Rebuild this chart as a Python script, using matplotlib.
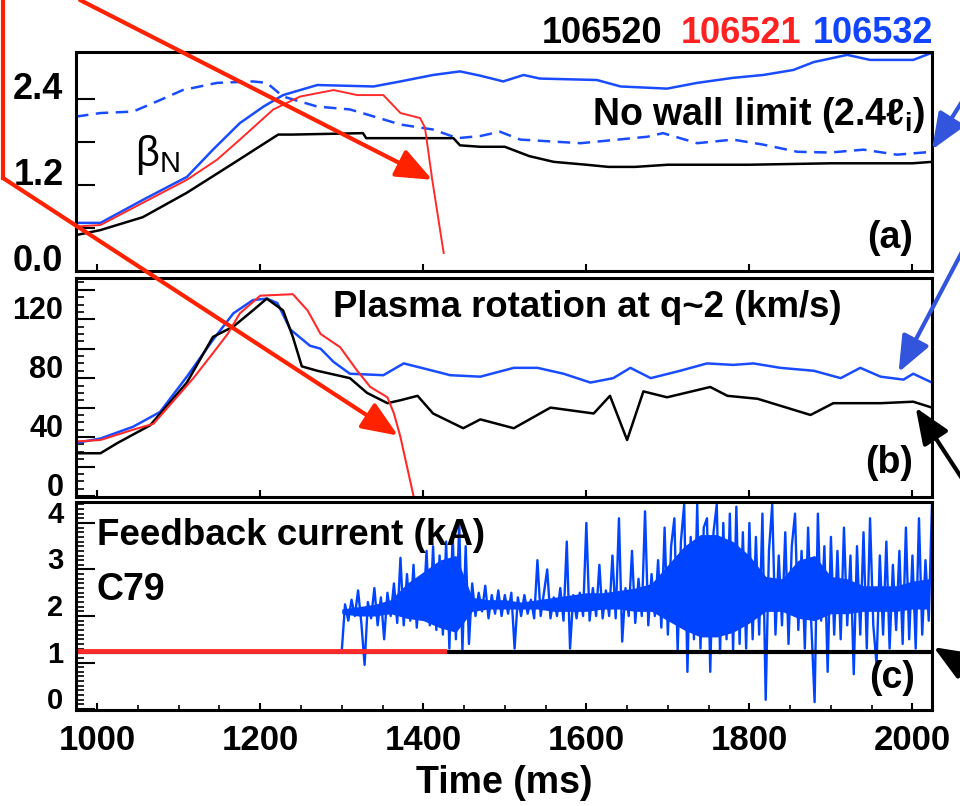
import numpy as np
import matplotlib.pyplot as plt
from matplotlib.lines import Line2D
from matplotlib.ticker import MultipleLocator

plt.rcParams['font.family'] = ['Liberation Sans', 'DejaVu Sans']
plt.rcParams['font.weight'] = 'bold'
plt.rcParams['mathtext.fontset'] = 'dejavusans'

# ---------------- data ----------------
shots = ['106520', '106521', '106532']
shot_colors = ['black', '#ff2222', '#1144ff']

# (a) beta_N and no-wall limit
bn_black_t = [974, 1004, 1056, 1110, 1167, 1222, 1240, 1326, 1330, 1437, 1445, 1470, 1500,
              1530, 1560, 1600, 1627, 1660, 1700, 1800, 1900, 2000, 2024]
bn_black = [0.50, 0.57, 0.75, 1.09, 1.50, 1.90, 1.90, 1.92, 1.85, 1.85, 1.75, 1.73, 1.73,
            1.60, 1.52, 1.48, 1.45, 1.45, 1.48, 1.48, 1.50, 1.50, 1.52]
bn_red_t = [974, 1004, 1056, 1110, 1147, 1175, 1216, 1249, 1290, 1319, 1351, 1372, 1396,
            1402, 1411, 1425]
bn_red = [0.62, 0.64, 0.95, 1.27, 1.55, 1.83, 2.25, 2.43, 2.52, 2.45, 2.45, 2.20, 2.13,
          2.00, 1.27, 0.25]
bn_blue_t = [974, 1004, 1056, 1110, 1142, 1175, 1204, 1228, 1270, 1339, 1372, 1412, 1445,
             1470, 1498, 1523, 1543, 1613, 1642, 1699, 1736, 1780, 1817, 1854, 1879, 1920,
             1948, 2001, 2024]
bn_blue = [0.67, 0.67, 0.99, 1.31, 1.69, 2.06, 2.29, 2.45, 2.59, 2.57, 2.64, 2.73, 2.78,
           2.72, 2.64, 2.73, 2.68, 2.66, 2.57, 2.54, 2.62, 2.69, 2.73, 2.80, 2.91, 3.01,
           2.94, 2.94, 3.04]
nowall_t = [974, 1004, 1044, 1077, 1105, 1147, 1191, 1208, 1228, 1270, 1310, 1331, 1372,
            1412, 1442, 1470, 1494, 1519, 1593, 1675, 1694, 1736, 1780, 1817, 1859, 1899,
            1940, 1981, 2024]
nowall = [2.15, 2.20, 2.22, 2.38, 2.52, 2.62, 2.64, 2.62, 2.43, 2.29, 2.25, 2.18, 2.04,
          1.97, 1.85, 1.88, 1.94, 1.83, 1.78, 1.87, 1.92, 1.78, 1.83, 1.76, 1.66, 1.65,
          1.69, 1.62, 1.66]

# (b) plasma rotation at q~2 (km/s)
rot_black_t = [974, 1004, 1025, 1065, 1110, 1142, 1167, 1191, 1208, 1228, 1240, 1251, 1270,
               1310, 1331, 1356, 1372, 1393, 1412, 1449, 1470, 1511, 1556, 1609, 1629, 1650,
               1670, 1699, 1752, 1773, 1810, 1875, 1903, 1961, 2001, 2024]
rot_black = [29, 29, 36, 48, 77, 108, 115, 126, 134, 126, 108, 88, 85,
             80, 70, 63, 65, 68, 56, 46, 52, 46, 60, 56, 68, 38,
             71, 67, 74, 68, 66, 55, 63, 63, 64, 60]
rot_red_t = [974, 1004, 1044, 1069, 1118, 1142, 1160, 1175, 1200, 1240, 1258, 1274, 1298,
             1319, 1335, 1356, 1364, 1372, 1388, 1392]
rot_red = [37, 38, 45, 49, 80, 97, 110, 124, 136, 137, 126, 110, 101,
           85, 74, 67, 56, 40, 0, -5]
rot_blue_t = [974, 1004, 1044, 1077, 1110, 1142, 1167, 1191, 1208, 1221, 1237, 1261, 1274,
              1290, 1310, 1351, 1376, 1412, 1433, 1470, 1511, 1540, 1572, 1605, 1633, 1654,
              1679, 1715, 1748, 1780, 1805, 1838, 1879, 1912, 1936, 1961, 1989, 2001, 2024]
rot_blue = [36, 39, 47, 57, 81, 106, 124, 133, 134, 131, 113, 102, 100,
            91, 83, 82, 90, 85, 82, 81, 87, 87, 83, 77, 80, 87,
            80, 85, 90, 89, 90, 87, 85, 80, 87, 81, 79, 83, 77]

# (c) feedback current C79 (kA)
fb_red_t, fb_red = [974, 1425], [1.25, 1.25]
fb_black_t, fb_black = [974, 2024], [1.23, 1.23]
fb_blue_pre_t, fb_blue_pre = [974, 1300], [1.22, 1.22]
fb_blue_start, fb_blue_dt = 1300, 4
fb_blue = [1.25, 2.25, 1.90, 2.35, 2.00, 2.55, 1.85, 0.95, 2.30, 1.95,   # 1300
           2.60, 1.80, 2.40, 1.50, 2.50, 2.00, 2.70, 1.85, 3.25, 1.80,   # 1340
           2.90, 1.90, 3.10, 1.75, 2.80, 2.10, 3.40, 1.80, 3.50, 1.70,   # 1380
           3.30, 1.60, 3.60, 1.30, 3.80, 1.50, 4.00, 1.27, 3.50, 1.40,   # 1420
           2.70, 2.00, 2.50, 2.10, 2.65, 1.95, 2.45, 2.05, 2.55, 2.00,   # 1460
           2.45, 2.05, 2.50, 1.30, 2.40, 2.00, 2.45, 2.05, 2.35, 1.95,   # 1500
           3.20, 2.00, 2.50, 3.00, 1.95, 2.40, 2.00, 2.60, 1.90, 3.60,   # 1540
           1.30, 2.45, 1.95, 2.50, 2.00, 4.00, 1.90, 2.60, 2.00, 3.10,   # 1580
           1.95, 2.55, 2.00, 3.30, 1.95, 4.10, 1.45, 2.60, 2.00, 3.40,   # 1620
           1.85, 2.80, 2.00, 4.25, 1.80, 2.90, 2.00, 3.20, 1.75, 3.90,   # 1660
           1.60, 3.50, 4.10, 1.25, 3.60, 4.40, 0.80, 3.70, 1.50, 4.40,   # 1700
           1.30, 3.90, 4.10, 0.80, 3.80, 4.40, 1.20, 4.00, 1.50, 4.20,   # 1740
           1.25, 4.35, 1.40, 3.80, 1.30, 4.00, 1.50, 3.70, 1.60, 4.20,   # 1780
           0.20, 3.40, 4.40, 1.60, 3.30, 1.80, 3.80, 1.40, 3.50, 4.20,   # 1820
           1.70, 3.40, 1.30, 3.90, 1.80, 0.15, 4.20, 1.90, 3.50, 0.80,   # 1860
           3.70, 1.60, 3.40, 1.50, 3.90, 1.80, 3.30, 0.75, 3.50, 1.60,   # 1900
           3.80, 1.30, 4.10, 1.80, 0.95, 3.30, 1.60, 3.60, 1.30, 3.10,   # 1940
           1.70, 3.40, 1.40, 3.90, 1.50, 3.30, 1.30, 4.10, 1.60, 3.20,   # 1980
           1.90, 4.40]                                                   # 2020
# dense core of the feedback trace, 20 ms bins from 1300 ms
fb_body_dt = 20
fb_body_lo = [2.05, 2.00, 2.00, 2.05, 1.95, 1.90, 1.75, 1.65, 2.10, 2.15, 2.15, 2.15, 2.15,
              2.10, 2.10, 2.10, 2.15, 2.15, 2.10, 2.10, 1.90, 1.70, 1.55, 1.55, 1.65, 1.85,
              2.10, 2.10, 1.95, 1.90, 2.05, 2.05, 2.10, 2.10, 2.10, 2.15, 2.15]
fb_body_hi = [2.15, 2.20, 2.25, 2.35, 2.70, 2.95, 3.20, 3.30, 2.40, 2.35, 2.35, 2.30, 2.35,
              2.40, 2.45, 2.50, 2.50, 2.55, 2.60, 2.70, 3.10, 3.50, 3.75, 3.75, 3.60, 3.30,
              2.85, 2.80, 3.20, 3.30, 2.85, 2.80, 2.65, 2.65, 2.65, 2.75, 2.80]

xticks = [1000, 1200, 1400, 1600, 1800, 2000]

# ---------------- layout (reference pixels) ----------------
W, H = 960, 806


def box(left, top, right, bottom):
    return [left / W, 1 - bottom / H, (right - left) / W, (bottom - top) / H]


def fxy(x, y):
    return (x / W, 1 - y / H)


fig = plt.figure(figsize=(9.6, 8.06), dpi=100, facecolor='white')
ax1 = fig.add_axes(box(76, 52, 932, 271))
ax2 = fig.add_axes(box(76, 278, 932, 497))
ax3 = fig.add_axes(box(76, 502, 932, 710))

blue = '#1a4cff'
red = '#ff2a2a'

# (a)
ax1.plot(nowall_t, nowall, color=blue, lw=1.8, dashes=(5, 3))
ax1.plot(bn_blue_t, bn_blue, color=blue, lw=1.8)
ax1.plot(bn_black_t, bn_black, color='black', lw=1.8)
ax1.plot(bn_red_t, bn_red, color=red, lw=1.4)
ax1.set_ylim(0, 3.05)
ax1.set_yticks([0, 0.6, 1.2, 1.8, 2.4], ['0.0', '', '1.2', '', '2.4'])

# (b)
ax2.plot(rot_blue_t, rot_blue, color=blue, lw=1.8)
ax2.plot(rot_black_t, rot_black, color='black', lw=1.8)
ax2.plot(rot_red_t, rot_red, color=red, lw=1.5)
ax2.set_ylim(-0.7, 148)
ax2.set_yticks(range(0, 141, 20), ['0', '', '40', '', '80', '', '120', ''])
ax2.yaxis.set_minor_locator(MultipleLocator(5))

# (c)
t_zig = np.arange(len(fb_blue)) * fb_blue_dt + fb_blue_start
t_body = np.arange(len(fb_body_lo)) * fb_body_dt + fb_blue_start
ax3.plot(fb_blue_pre_t, fb_blue_pre, color='#0044ff', lw=2)
ax3.fill_between(t_body, fb_body_lo, fb_body_hi, color='#0044ff', lw=0)
ax3.plot(t_zig, fb_blue, color='#0044ff', lw=1.7)
ax3.plot(fb_black_t, fb_black, color='black', lw=3)
ax3.plot(fb_red_t, fb_red, color=red, lw=3.5)
ax3.set_ylim(-0.02, 4.45)
ax3.set_yticks([0, 1, 2, 3, 4])
ax3.yaxis.set_minor_locator(MultipleLocator(0.1))
ax3.xaxis.set_minor_locator(MultipleLocator(50))
ax3.set_xlabel('Time (ms)', fontsize=27, fontweight='bold', labelpad=6)

for ax, ysize in [(ax1, 26), (ax2, 22), (ax3, 21)]:
    ax.set_facecolor('none')
    ax.set_xlim(974, 2024)
    ax.set_xticks(xticks)
    for s in ax.spines.values():
        s.set_linewidth(2.2)
    ax.tick_params(axis='x', which='major', direction='in', length=5, width=1.5,
                   labelsize=25, pad=10)
    ax.tick_params(axis='x', which='minor', direction='in', length=3.5, width=1.2)
    ax.tick_params(axis='y', which='major', direction='in', length=14, width=1.5,
                   labelsize=ysize, pad=9)
    ax.tick_params(axis='y', which='minor', direction='in', length=6, width=1.2)
    for lab in ax.get_yticklabels():
        lab.set_verticalalignment('baseline')
ax1.tick_params(axis='x', labelbottom=False)
ax2.tick_params(axis='x', labelbottom=False)

# panel texts
ax1.text(0.069, 0.53, '\u03b2$_\\mathregular{N}$', transform=ax1.transAxes, fontsize=30,
         fontweight='normal', va='center', ha='left')
ax1.text(0.992, 0.667, 'No wall limit (2.4\u2113$_\\mathregular{i}$)', transform=ax1.transAxes,
         fontsize=27, ha='right', va='baseline')
ax1.text(0.978, 0.15, '(a)', transform=ax1.transAxes, fontsize=27, ha='right', va='center')
ax2.text(0.30, 0.822, 'Plasma rotation at q~2 (km/s)', transform=ax2.transAxes,
         fontsize=26.3, ha='left', va='baseline')
ax2.text(0.978, 0.155, '(b)', transform=ax2.transAxes, fontsize=27, ha='right', va='center')
ax3.text(0.0245, 0.793, 'Feedback current (kA)', transform=ax3.transAxes,
         fontsize=26.5, ha='left', va='baseline')
ax3.text(0.0245, 0.529, 'C79', transform=ax3.transAxes, fontsize=27, ha='left', va='baseline')
ax3.text(0.98, 0.154, '(c)', transform=ax3.transAxes, fontsize=27, ha='right', va='center')

# shot numbers above panel (a)
for name, col, xl in zip(shots, shot_colors, [0.544, 0.706, 0.861]):
    ax1.text(xl, 1.041, name, transform=ax1.transAxes, fontsize=26, color=col,
             ha='left', va='baseline')

# annotation arrows
arrow_red = '#ff2200'
arrow_blue = '#3355dd'


def arrow(ax, tip, tail_px, color):
    ax.annotate('', xy=tip, xycoords='data', xytext=fxy(*tail_px),
                textcoords='figure fraction', annotation_clip=False, zorder=10,
                arrowprops=dict(arrowstyle='-|>,head_length=1.1,head_width=0.45',
                                color=color, lw=3, mutation_scale=20,
                                shrinkA=0, shrinkB=0))


arrow(ax1, (1411, 1.27), (80, 0), arrow_red)
fig.add_artist(Line2D([3 / W, 3 / W], [1, 1 - 178 / H], color=arrow_red, lw=3))
arrow(ax2, (1369, 41), (3, 178), arrow_red)
arrow(ax1, (2024, 1.69), (963, 100), arrow_blue)
arrow(ax2, (1983, 84), (963, 250), arrow_blue)
arrow(ax2, (2004, 60), (963, 480), 'black')
arrow(ax3, (2026, 1.33), (963, 665), 'black')

fig.savefig('out.png', dpi=100, facecolor='white')
